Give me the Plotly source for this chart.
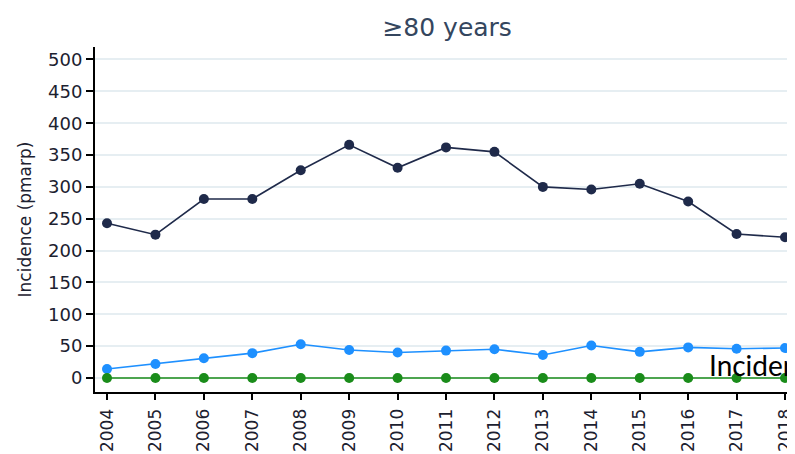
import plotly.graph_objects as go

years = list(range(2004, 2019))
series_dark = [243, 225, 281, 281, 326, 366, 330, 362, 355, 300, 296, 305, 277, 226, 221]
series_blue = [14, 22, 31, 39, 53, 44, 40, 43, 45, 36, 51, 41, 48, 46, 47]
series_green = [0, 0, 0, 0, 0, 0, 0, 0, 0, 0, 0, 0, 0, 0, 0]
y_ticks = [0, 50, 100, 150, 200, 250, 300, 350, 400, 450, 500]

title_text = "≥80 years"
y_title = "Incidence (pmarp)"
note_text = "Incidence"

colors = {"dark": "#1f2a4a", "blue": "#1e90ff", "green": "#1a8c1a"}

fig = go.Figure()
for vals, key in [(series_dark, "dark"), (series_blue, "blue"), (series_green, "green")]:
    fig.add_trace(go.Scatter(
        x=years, y=vals, mode="lines+markers",
        line=dict(color=colors[key], width=1.6),
        marker=dict(color=colors[key], size=10, symbol="circle"),
        cliponaxis=False, showlegend=False,
    ))

font_main = "DejaVu Sans, Arial, sans-serif"
fig.update_layout(
    width=787, height=446,
    margin=dict(l=87, r=0, t=39, b=62, autoexpand=False),
    paper_bgcolor="white", plot_bgcolor="white",
    title=dict(text=title_text, x=0.558, xanchor="center", y=0.957, yanchor="middle",
               font=dict(family=font_main, size=25, color="#34465e"),
               automargin=False),
    font=dict(family=font_main, size=18, color="#1c2130"),
)
fig.update_xaxes(
    range=[2003.752, 2018.206], tickmode="array", tickvals=years,
    ticktext=[str(y) for y in years], tickangle=-90,
    showline=True, linecolor="black", linewidth=2,
    ticks="outside", ticklen=6, tickcolor="black", tickwidth=1.5,
    showgrid=False, zeroline=False, automargin=False, ticklabelstandoff=2,
    tickfont=dict(family=font_main, size=17, color="#1c2130"),
)
fig.update_yaxes(
    range=[-22, 519.6], tickmode="array", tickvals=y_ticks,
    showline=True, linecolor="black", linewidth=2,
    ticks="outside", ticklen=7, tickcolor="black", tickwidth=1.5,
    showgrid=True, gridcolor="#e6eef2", gridwidth=1.5, zeroline=False, automargin=False,
    tickfont=dict(family=font_main, size=18, color="#1c2130"),
    title=dict(text=y_title, font=dict(family=font_main, size=17, color="#1c2130"), standoff=12),
)
fig.add_annotation(
    x=2016.38, y=20, xref="x", yref="y", text=note_text, showarrow=False,
    xanchor="left", yanchor="middle",
    font=dict(family="Lato, Carlito, sans-serif", size=28, color="black"),
)
fig.write_html("out.html")
